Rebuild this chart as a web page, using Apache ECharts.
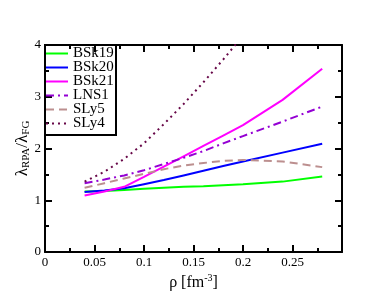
<!DOCTYPE html>
<html><head><meta charset="utf-8">
<script src="https://cdn.jsdelivr.net/npm/echarts@6/dist/echarts.min.js"></script>
<style>html,body{margin:0;padding:0;background:#fff}#c{width:385px;height:298px}</style>
</head><body><div id="c"></div>
<script>
const rho = [0.04,0.06,0.08,0.10,0.12,0.14,0.16,0.18,0.20,0.24,0.28];
const BSk19 = [1.17,1.18,1.20,1.22,1.24,1.26,1.27,1.29,1.31,1.36,1.46];
const BSk20 = [1.16,1.19,1.23,1.31,1.39,1.48,1.57,1.66,1.75,1.92,2.09];
const BSk21 = [1.09,1.17,1.26,1.45,1.65,1.85,2.05,2.25,2.45,2.94,3.54];
const LNS1  = [1.33,1.40,1.48,1.58,1.70,1.82,1.95,2.10,2.24,2.52,2.81];
const SLy5  = [1.24,1.33,1.42,1.51,1.60,1.67,1.72,1.76,1.78,1.75,1.64];
const rhoSLy4 = [0.04,0.06,0.08,0.10,0.12,0.14,0.16,0.18,0.20];
const SLy4  = [1.36,1.55,1.80,2.10,2.47,2.86,3.28,3.72,4.18];
const xTicks = [0,0.05,0.1,0.15,0.2,0.25];
const yTicks = [0,1,2,3,4];

const serif = 'Liberation Serif';
const pair = (xs, ys) => xs.map((x,i)=>[x,ys[i]]);
function mk(name, xs, ys, color, type){
  return {name, type:'line', data:pair(xs,ys), symbol:'none', clip:true,
    lineStyle:{color, width:2, type}, itemStyle:{color}};
}
const axisCommon = {
  axisLine:{show:true, onZero:false, lineStyle:{color:'#000', width:2}},
  axisTick:{show:true, inside:true, length:7, lineStyle:{color:'#000', width:2}},
  minorTick:{show:true, splitNumber:2, length:4, lineStyle:{color:'#000', width:2}},
  splitLine:{show:false}
};
const chart = echarts.init(document.getElementById('c'));
chart.setOption({
  animation:false,
  backgroundColor:'#fff',
  grid:{left:45, right:43, top:45, bottom:46, outerBoundsMode:'none', containLabel:false},
  xAxis:[
    Object.assign({type:'value', min:0, max:0.3, interval:0.05, position:'bottom',
      axisLabel:{color:'#000', fontFamily:serif, fontSize:13, margin:4,
        formatter:v=>{const t=xTicks.find(k=>Math.abs(k-v)<1e-9);return t===undefined?'':String(t);}},
      name:'ρ [fm{sup|-3}]', nameLocation:'middle', nameGap:21, nameMoveOverlap:false,
      nameTextStyle:{color:'#000', fontFamily:serif, fontSize:16,
        rich:{sup:{fontFamily:serif, fontSize:10, color:'#000', padding:[0,0,10,0]}}}
    }, axisCommon),
    Object.assign({type:'value', min:0, max:0.3, interval:0.05, position:'top',
      axisLabel:{show:false}}, axisCommon)
  ],
  yAxis:[
    Object.assign({type:'value', min:0, max:4, interval:1, position:'left',
      axisLabel:{color:'#000', fontFamily:serif, fontSize:13, margin:4,
        formatter:v=>{const t=yTicks.find(k=>Math.abs(k-v)<1e-9);return t===undefined?'':String(t);}},
      name:'{a|λ}{s|RPA}{a|/λ}{s|FG}', nameLocation:'middle', nameGap:13, nameRotate:90,
      nameMoveOverlap:false,
      nameTextStyle:{color:'#000', fontFamily:serif,
        rich:{a:{fontFamily:serif, fontSize:17, color:'#000'},
              s:{fontFamily:serif, fontSize:11, color:'#000', padding:[8,0,0,0]}}}
    }, axisCommon),
    Object.assign({type:'value', min:0, max:4, interval:1, position:'right',
      axisLabel:{show:false}}, axisCommon)
  ],
  legend:{orient:'vertical', left:45, top:46, padding:0, itemWidth:22, itemHeight:12, itemGap:-1,
    itemStyle:{opacity:0},
    textStyle:{color:'#000', fontFamily:serif, fontSize:15, lineHeight:12},
    data:['BSk19','BSk20','BSk21','LNS1','SLy5','SLy4']},
  graphic:[{type:'rect', shape:{x:45, y:45, width:71, height:90},
    style:{fill:'none', stroke:'#000', lineWidth:2}, z:100}],
  series:[
    mk('BSk19', rho, BSk19, '#00ff00', 'solid'),
    mk('BSk20', rho, BSk20, '#0000ff', 'solid'),
    mk('BSk21', rho, BSk21, '#ff00ff', 'solid'),
    mk('LNS1', rho, LNS1, '#9400d3', [8,4,2,4]),
    mk('SLy5', rho, SLy5, '#bc8f8f', [8,5]),
    mk('SLy4', rhoSLy4, SLy4, '#670748', [2,4])
  ]
});
</script></body></html>
